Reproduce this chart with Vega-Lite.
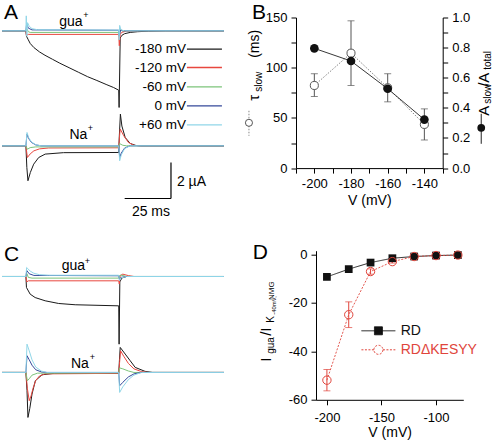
{
"$schema": "https://vega.github.io/schema/vega-lite/v6.json",
"padding": {"left": 0, "top": 1.5, "right": 0, "bottom": 0},
"autosize": {"type": "pad"},
"background": "white",
"bounds": "flush",
"spacing": 233.2,
"resolve": {"scale": {"color": "independent", "strokeDash": "independent"}, "legend": {"color": "independent", "strokeDash": "independent"}},
"config": {
  "font": "Liberation Sans",
  "view": {"stroke": null},
  "axis": {"domainColor": "#000", "tickColor": "#000", "labelColor": "#000", "titleColor": "#000", "labelFontSize": 13, "titleFontSize": 14, "titleFontWeight": "normal", "tickSize": 5, "grid": false, "domainWidth": 1, "tickWidth": 1, "labelFont": "Liberation Sans", "titleFont": "Liberation Sans", "labelOverlap": false, "labelFlush": false},
  "text": {"font": "Liberation Sans", "color": "#000"},
  "legend": {"labelFont": "Liberation Sans", "labelColor": "#000"}
},
"datasets": {
"tr": [
{"p":"A","g":"gua","v":"-180 mV","t":-13.2,"i":0},{"p":"A","g":"gua","v":"-180 mV","t":-0.3,"i":0},{"p":"A","g":"gua","v":"-180 mV","t":0,"i":-0.3},{"p":"A","g":"gua","v":"-180 mV","t":1,"i":-0.5},{"p":"A","g":"gua","v":"-180 mV","t":2,"i":-0.7},{"p":"A","g":"gua","v":"-180 mV","t":4,"i":-0.93},{"p":"A","g":"gua","v":"-180 mV","t":7,"i":-1.17},{"p":"A","g":"gua","v":"-180 mV","t":10,"i":-1.36},{"p":"A","g":"gua","v":"-180 mV","t":14,"i":-1.58},{"p":"A","g":"gua","v":"-180 mV","t":18,"i":-1.8},{"p":"A","g":"gua","v":"-180 mV","t":23,"i":-2.05},{"p":"A","g":"gua","v":"-180 mV","t":28,"i":-2.3},{"p":"A","g":"gua","v":"-180 mV","t":33,"i":-2.55},{"p":"A","g":"gua","v":"-180 mV","t":38,"i":-2.76},{"p":"A","g":"gua","v":"-180 mV","t":43,"i":-2.98},{"p":"A","g":"gua","v":"-180 mV","t":47,"i":-3.15},{"p":"A","g":"gua","v":"-180 mV","t":49.8,"i":-3.3},{"p":"A","g":"gua","v":"-180 mV","t":50,"i":-4.26},{"p":"A","g":"gua","v":"-180 mV","t":50.6,"i":-0.4},{"p":"A","g":"gua","v":"-180 mV","t":51.5,"i":-0.25},{"p":"A","g":"gua","v":"-180 mV","t":53,"i":-0.16},{"p":"A","g":"gua","v":"-180 mV","t":56,"i":-0.09},{"p":"A","g":"gua","v":"-180 mV","t":60,"i":-0.05},{"p":"A","g":"gua","v":"-180 mV","t":66,"i":-0.02},{"p":"A","g":"gua","v":"-180 mV","t":75,"i":0},{"p":"A","g":"gua","v":"-180 mV","t":106.6,"i":0},
{"p":"A","g":"na","v":"-180 mV","t":-13.2,"i":-6.39},{"p":"A","g":"na","v":"-180 mV","t":-0.3,"i":-6.39},{"p":"A","g":"na","v":"-180 mV","t":0.2,"i":-7.59},{"p":"A","g":"na","v":"-180 mV","t":0.8,"i":-8.33},{"p":"A","g":"na","v":"-180 mV","t":2.1,"i":-7.87},{"p":"A","g":"na","v":"-180 mV","t":3.9,"i":-7.41},{"p":"A","g":"na","v":"-180 mV","t":6.6,"i":-7.04},{"p":"A","g":"na","v":"-180 mV","t":10.1,"i":-6.85},{"p":"A","g":"na","v":"-180 mV","t":20,"i":-6.77},{"p":"A","g":"na","v":"-180 mV","t":49.8,"i":-6.76},{"p":"A","g":"na","v":"-180 mV","t":50.1,"i":-5.89},{"p":"A","g":"na","v":"-180 mV","t":50.7,"i":-4.63},{"p":"A","g":"na","v":"-180 mV","t":51.5,"i":-5.29},{"p":"A","g":"na","v":"-180 mV","t":53.3,"i":-5.93},{"p":"A","g":"na","v":"-180 mV","t":56,"i":-6.26},{"p":"A","g":"na","v":"-180 mV","t":59,"i":-6.37},{"p":"A","g":"na","v":"-180 mV","t":62,"i":-6.39},{"p":"A","g":"na","v":"-180 mV","t":106.6,"i":-6.39},
{"p":"A","g":"gua","v":"-120 mV","t":-13.2,"i":0},{"p":"A","g":"gua","v":"-120 mV","t":-0.3,"i":0},{"p":"A","g":"gua","v":"-120 mV","t":0,"i":-0.25},{"p":"A","g":"gua","v":"-120 mV","t":1,"i":-0.2},{"p":"A","g":"gua","v":"-120 mV","t":49.8,"i":-0.2},{"p":"A","g":"gua","v":"-120 mV","t":50.1,"i":-0.83},{"p":"A","g":"gua","v":"-120 mV","t":50.6,"i":-0.2},{"p":"A","g":"gua","v":"-120 mV","t":51.5,"i":-0.08},{"p":"A","g":"gua","v":"-120 mV","t":54,"i":-0.02},{"p":"A","g":"gua","v":"-120 mV","t":58,"i":0},{"p":"A","g":"gua","v":"-120 mV","t":106.6,"i":0},
{"p":"A","g":"na","v":"-120 mV","t":-13.2,"i":-6.39},{"p":"A","g":"na","v":"-120 mV","t":-0.3,"i":-6.39},{"p":"A","g":"na","v":"-120 mV","t":0.5,"i":-7.04},{"p":"A","g":"na","v":"-120 mV","t":2,"i":-6.84},{"p":"A","g":"na","v":"-120 mV","t":4,"i":-6.67},{"p":"A","g":"na","v":"-120 mV","t":7,"i":-6.56},{"p":"A","g":"na","v":"-120 mV","t":12,"i":-6.51},{"p":"A","g":"na","v":"-120 mV","t":49.8,"i":-6.5},{"p":"A","g":"na","v":"-120 mV","t":50.2,"i":-5.89},{"p":"A","g":"na","v":"-120 mV","t":50.6,"i":-5.46},{"p":"A","g":"na","v":"-120 mV","t":52.5,"i":-5.83},{"p":"A","g":"na","v":"-120 mV","t":55,"i":-6.2},{"p":"A","g":"na","v":"-120 mV","t":58,"i":-6.36},{"p":"A","g":"na","v":"-120 mV","t":61,"i":-6.39},{"p":"A","g":"na","v":"-120 mV","t":106.6,"i":-6.39},
{"p":"A","g":"gua","v":"-60 mV","t":-13.2,"i":0},{"p":"A","g":"gua","v":"-60 mV","t":-0.3,"i":0},{"p":"A","g":"gua","v":"-60 mV","t":0.3,"i":0.1},{"p":"A","g":"gua","v":"-60 mV","t":1,"i":-0.05},{"p":"A","g":"gua","v":"-60 mV","t":2,"i":-0.09},{"p":"A","g":"gua","v":"-60 mV","t":49.8,"i":-0.09},{"p":"A","g":"gua","v":"-60 mV","t":50.1,"i":-0.25},{"p":"A","g":"gua","v":"-60 mV","t":50.6,"i":0.05},{"p":"A","g":"gua","v":"-60 mV","t":52,"i":0},{"p":"A","g":"gua","v":"-60 mV","t":106.6,"i":0},
{"p":"A","g":"na","v":"-60 mV","t":-13.2,"i":-6.39},{"p":"A","g":"na","v":"-60 mV","t":-0.3,"i":-6.39},{"p":"A","g":"na","v":"-60 mV","t":0.5,"i":-6.58},{"p":"A","g":"na","v":"-60 mV","t":2,"i":-6.49},{"p":"A","g":"na","v":"-60 mV","t":5,"i":-6.45},{"p":"A","g":"na","v":"-60 mV","t":49.8,"i":-6.45},{"p":"A","g":"na","v":"-60 mV","t":50.3,"i":-6.27},{"p":"A","g":"na","v":"-60 mV","t":52,"i":-6.36},{"p":"A","g":"na","v":"-60 mV","t":54,"i":-6.39},{"p":"A","g":"na","v":"-60 mV","t":106.6,"i":-6.39},
{"p":"A","g":"gua","v":"0 mV","t":-13.2,"i":0},{"p":"A","g":"gua","v":"0 mV","t":-0.3,"i":0},{"p":"A","g":"gua","v":"0 mV","t":0.1,"i":0.4},{"p":"A","g":"gua","v":"0 mV","t":1,"i":0.15},{"p":"A","g":"gua","v":"0 mV","t":3,"i":0.05},{"p":"A","g":"gua","v":"0 mV","t":49.8,"i":0.03},{"p":"A","g":"gua","v":"0 mV","t":50.1,"i":-0.3},{"p":"A","g":"gua","v":"0 mV","t":50.8,"i":0.05},{"p":"A","g":"gua","v":"0 mV","t":52,"i":0},{"p":"A","g":"gua","v":"0 mV","t":106.6,"i":0},
{"p":"A","g":"na","v":"0 mV","t":-13.2,"i":-6.39},{"p":"A","g":"na","v":"0 mV","t":-0.3,"i":-6.39},{"p":"A","g":"na","v":"0 mV","t":0.3,"i":-5.74},{"p":"A","g":"na","v":"0 mV","t":1.2,"i":-5.99},{"p":"A","g":"na","v":"0 mV","t":2.7,"i":-6.2},{"p":"A","g":"na","v":"0 mV","t":5,"i":-6.34},{"p":"A","g":"na","v":"0 mV","t":8,"i":-6.39},{"p":"A","g":"na","v":"0 mV","t":49.8,"i":-6.39},{"p":"A","g":"na","v":"0 mV","t":50.3,"i":-7.04},{"p":"A","g":"na","v":"0 mV","t":51.2,"i":-6.79},{"p":"A","g":"na","v":"0 mV","t":53,"i":-6.51},{"p":"A","g":"na","v":"0 mV","t":56,"i":-6.39},{"p":"A","g":"na","v":"0 mV","t":106.6,"i":-6.39},
{"p":"A","g":"gua","v":"+60 mV","t":-13.2,"i":0},{"p":"A","g":"gua","v":"+60 mV","t":-0.3,"i":0},{"p":"A","g":"gua","v":"+60 mV","t":-0.1,"i":0.83},{"p":"A","g":"gua","v":"+60 mV","t":0.2,"i":-0.3},{"p":"A","g":"gua","v":"+60 mV","t":0.6,"i":0.45},{"p":"A","g":"gua","v":"+60 mV","t":1.5,"i":0.25},{"p":"A","g":"gua","v":"+60 mV","t":3,"i":0.12},{"p":"A","g":"gua","v":"+60 mV","t":6,"i":0.06},{"p":"A","g":"gua","v":"+60 mV","t":49.8,"i":0.04},{"p":"A","g":"gua","v":"+60 mV","t":50,"i":-0.5},{"p":"A","g":"gua","v":"+60 mV","t":50.3,"i":0.3},{"p":"A","g":"gua","v":"+60 mV","t":51,"i":0.05},{"p":"A","g":"gua","v":"+60 mV","t":53,"i":0},{"p":"A","g":"gua","v":"+60 mV","t":106.6,"i":0},
{"p":"A","g":"na","v":"+60 mV","t":-13.2,"i":-6.39},{"p":"A","g":"na","v":"+60 mV","t":-0.3,"i":-6.39},{"p":"A","g":"na","v":"+60 mV","t":0.3,"i":-5.65},{"p":"A","g":"na","v":"+60 mV","t":1.2,"i":-5.94},{"p":"A","g":"na","v":"+60 mV","t":2.7,"i":-6.17},{"p":"A","g":"na","v":"+60 mV","t":5,"i":-6.33},{"p":"A","g":"na","v":"+60 mV","t":8,"i":-6.39},{"p":"A","g":"na","v":"+60 mV","t":49.8,"i":-6.39},{"p":"A","g":"na","v":"+60 mV","t":50.3,"i":-7.22},{"p":"A","g":"na","v":"+60 mV","t":51.2,"i":-6.89},{"p":"A","g":"na","v":"+60 mV","t":53,"i":-6.54},{"p":"A","g":"na","v":"+60 mV","t":56,"i":-6.39},{"p":"A","g":"na","v":"+60 mV","t":106.6,"i":-6.39},
{"p":"C","g":"gua","v":"-180 mV","t":-13.2,"i":0},{"p":"C","g":"gua","v":"-180 mV","t":-0.3,"i":0},{"p":"C","g":"gua","v":"-180 mV","t":0,"i":-0.61},{"p":"C","g":"gua","v":"-180 mV","t":2,"i":-0.98},{"p":"C","g":"gua","v":"-180 mV","t":4.7,"i":-1.17},{"p":"C","g":"gua","v":"-180 mV","t":10.1,"i":-1.35},{"p":"C","g":"gua","v":"-180 mV","t":17.4,"i":-1.5},{"p":"C","g":"gua","v":"-180 mV","t":26.3,"i":-1.57},{"p":"C","g":"gua","v":"-180 mV","t":49.8,"i":-1.63},{"p":"C","g":"gua","v":"-180 mV","t":50,"i":-3.76},{"p":"C","g":"gua","v":"-180 mV","t":50.4,"i":-0.3},{"p":"C","g":"gua","v":"-180 mV","t":51.5,"i":-0.08},{"p":"C","g":"gua","v":"-180 mV","t":54,"i":0},{"p":"C","g":"gua","v":"-180 mV","t":106.6,"i":0},
{"p":"C","g":"na","v":"-180 mV","t":-13.2,"i":-5.33},{"p":"C","g":"na","v":"-180 mV","t":-0.3,"i":-5.33},{"p":"C","g":"na","v":"-180 mV","t":0.3,"i":-6.33},{"p":"C","g":"na","v":"-180 mV","t":0.8,"i":-7.83},{"p":"C","g":"na","v":"-180 mV","t":1.8,"i":-7.33},{"p":"C","g":"na","v":"-180 mV","t":3,"i":-6.53},{"p":"C","g":"na","v":"-180 mV","t":4.8,"i":-5.79},{"p":"C","g":"na","v":"-180 mV","t":8.4,"i":-5.46},{"p":"C","g":"na","v":"-180 mV","t":15,"i":-5.38},{"p":"C","g":"na","v":"-180 mV","t":49.8,"i":-5.39},{"p":"C","g":"na","v":"-180 mV","t":50.2,"i":-4.63},{"p":"C","g":"na","v":"-180 mV","t":50.6,"i":-3.94},{"p":"C","g":"na","v":"-180 mV","t":53.3,"i":-4.31},{"p":"C","g":"na","v":"-180 mV","t":56,"i":-4.68},{"p":"C","g":"na","v":"-180 mV","t":58.7,"i":-5.05},{"p":"C","g":"na","v":"-180 mV","t":64,"i":-5.27},{"p":"C","g":"na","v":"-180 mV","t":68,"i":-5.33},{"p":"C","g":"na","v":"-180 mV","t":106.6,"i":-5.33},
{"p":"C","g":"gua","v":"-120 mV","t":-13.2,"i":0},{"p":"C","g":"gua","v":"-120 mV","t":-0.3,"i":0},{"p":"C","g":"gua","v":"-120 mV","t":0.2,"i":-0.3},{"p":"C","g":"gua","v":"-120 mV","t":1,"i":-0.24},{"p":"C","g":"gua","v":"-120 mV","t":49.8,"i":-0.24},{"p":"C","g":"gua","v":"-120 mV","t":50.1,"i":-0.42},{"p":"C","g":"gua","v":"-120 mV","t":50.6,"i":0.05},{"p":"C","g":"gua","v":"-120 mV","t":52,"i":0.13},{"p":"C","g":"gua","v":"-120 mV","t":55,"i":0.05},{"p":"C","g":"gua","v":"-120 mV","t":58,"i":0},{"p":"C","g":"gua","v":"-120 mV","t":106.6,"i":0},
{"p":"C","g":"na","v":"-120 mV","t":-13.2,"i":-5.33},{"p":"C","g":"na","v":"-120 mV","t":-0.3,"i":-5.33},{"p":"C","g":"na","v":"-120 mV","t":0.5,"i":-6.23},{"p":"C","g":"na","v":"-120 mV","t":1.5,"i":-6.9},{"p":"C","g":"na","v":"-120 mV","t":2.5,"i":-6.63},{"p":"C","g":"na","v":"-120 mV","t":3.5,"i":-6.23},{"p":"C","g":"na","v":"-120 mV","t":5,"i":-5.78},{"p":"C","g":"na","v":"-120 mV","t":7,"i":-5.53},{"p":"C","g":"na","v":"-120 mV","t":10,"i":-5.41},{"p":"C","g":"na","v":"-120 mV","t":49.8,"i":-5.38},{"p":"C","g":"na","v":"-120 mV","t":50.3,"i":-4.73},{"p":"C","g":"na","v":"-120 mV","t":50.8,"i":-4.13},{"p":"C","g":"na","v":"-120 mV","t":52.5,"i":-4.43},{"p":"C","g":"na","v":"-120 mV","t":55,"i":-4.83},{"p":"C","g":"na","v":"-120 mV","t":58,"i":-5.13},{"p":"C","g":"na","v":"-120 mV","t":62,"i":-5.28},{"p":"C","g":"na","v":"-120 mV","t":66,"i":-5.33},{"p":"C","g":"na","v":"-120 mV","t":106.6,"i":-5.33},
{"p":"C","g":"gua","v":"-60 mV","t":-13.2,"i":0},{"p":"C","g":"gua","v":"-60 mV","t":-0.3,"i":0},{"p":"C","g":"gua","v":"-60 mV","t":0.3,"i":0.15},{"p":"C","g":"gua","v":"-60 mV","t":1,"i":-0.05},{"p":"C","g":"gua","v":"-60 mV","t":3,"i":-0.09},{"p":"C","g":"gua","v":"-60 mV","t":49.8,"i":-0.09},{"p":"C","g":"gua","v":"-60 mV","t":50.2,"i":0.05},{"p":"C","g":"gua","v":"-60 mV","t":51,"i":0.08},{"p":"C","g":"gua","v":"-60 mV","t":54,"i":0},{"p":"C","g":"gua","v":"-60 mV","t":106.6,"i":0},
{"p":"C","g":"na","v":"-60 mV","t":-13.2,"i":-5.33},{"p":"C","g":"na","v":"-60 mV","t":-0.3,"i":-5.33},{"p":"C","g":"na","v":"-60 mV","t":0.5,"i":-5.79},{"p":"C","g":"na","v":"-60 mV","t":1.5,"i":-5.68},{"p":"C","g":"na","v":"-60 mV","t":3,"i":-5.48},{"p":"C","g":"na","v":"-60 mV","t":6,"i":-5.37},{"p":"C","g":"na","v":"-60 mV","t":49.8,"i":-5.35},{"p":"C","g":"na","v":"-60 mV","t":50.3,"i":-5.08},{"p":"C","g":"na","v":"-60 mV","t":52,"i":-5.13},{"p":"C","g":"na","v":"-60 mV","t":55,"i":-5.25},{"p":"C","g":"na","v":"-60 mV","t":58,"i":-5.33},{"p":"C","g":"na","v":"-60 mV","t":106.6,"i":-5.33},
{"p":"C","g":"gua","v":"0 mV","t":-13.2,"i":0},{"p":"C","g":"gua","v":"0 mV","t":-0.3,"i":0},{"p":"C","g":"gua","v":"0 mV","t":0.2,"i":0.33},{"p":"C","g":"gua","v":"0 mV","t":1.5,"i":0.15},{"p":"C","g":"gua","v":"0 mV","t":4,"i":0.06},{"p":"C","g":"gua","v":"0 mV","t":49.8,"i":0.04},{"p":"C","g":"gua","v":"0 mV","t":50.2,"i":-0.15},{"p":"C","g":"gua","v":"0 mV","t":51,"i":-0.05},{"p":"C","g":"gua","v":"0 mV","t":54,"i":0},{"p":"C","g":"gua","v":"0 mV","t":106.6,"i":0},
{"p":"C","g":"na","v":"0 mV","t":-13.2,"i":-5.33},{"p":"C","g":"na","v":"0 mV","t":-0.3,"i":-5.33},{"p":"C","g":"na","v":"0 mV","t":0.3,"i":-4.4},{"p":"C","g":"na","v":"0 mV","t":1.5,"i":-4.63},{"p":"C","g":"na","v":"0 mV","t":3,"i":-4.93},{"p":"C","g":"na","v":"0 mV","t":5,"i":-5.18},{"p":"C","g":"na","v":"0 mV","t":8,"i":-5.3},{"p":"C","g":"na","v":"0 mV","t":11,"i":-5.33},{"p":"C","g":"na","v":"0 mV","t":49.8,"i":-5.33},{"p":"C","g":"na","v":"0 mV","t":50.3,"i":-6.07},{"p":"C","g":"na","v":"0 mV","t":52,"i":-5.88},{"p":"C","g":"na","v":"0 mV","t":55,"i":-5.58},{"p":"C","g":"na","v":"0 mV","t":58,"i":-5.41},{"p":"C","g":"na","v":"0 mV","t":62,"i":-5.33},{"p":"C","g":"na","v":"0 mV","t":106.6,"i":-5.33},
{"p":"C","g":"gua","v":"+60 mV","t":-13.2,"i":0},{"p":"C","g":"gua","v":"+60 mV","t":-0.3,"i":0},{"p":"C","g":"gua","v":"+60 mV","t":0.1,"i":0.5},{"p":"C","g":"gua","v":"+60 mV","t":0.6,"i":0.45},{"p":"C","g":"gua","v":"+60 mV","t":2,"i":0.3},{"p":"C","g":"gua","v":"+60 mV","t":4,"i":0.18},{"p":"C","g":"gua","v":"+60 mV","t":7,"i":0.1},{"p":"C","g":"gua","v":"+60 mV","t":12,"i":0.07},{"p":"C","g":"gua","v":"+60 mV","t":49.8,"i":0.07},{"p":"C","g":"gua","v":"+60 mV","t":50.2,"i":-0.24},{"p":"C","g":"gua","v":"+60 mV","t":51,"i":-0.08},{"p":"C","g":"gua","v":"+60 mV","t":54,"i":0},{"p":"C","g":"gua","v":"+60 mV","t":106.6,"i":0},
{"p":"C","g":"na","v":"+60 mV","t":-13.2,"i":-5.33},{"p":"C","g":"na","v":"+60 mV","t":-0.3,"i":-5.33},{"p":"C","g":"na","v":"+60 mV","t":0.3,"i":-3.76},{"p":"C","g":"na","v":"+60 mV","t":1.5,"i":-4.13},{"p":"C","g":"na","v":"+60 mV","t":3,"i":-4.63},{"p":"C","g":"na","v":"+60 mV","t":5,"i":-5.03},{"p":"C","g":"na","v":"+60 mV","t":8,"i":-5.25},{"p":"C","g":"na","v":"+60 mV","t":11,"i":-5.33},{"p":"C","g":"na","v":"+60 mV","t":49.8,"i":-5.33},{"p":"C","g":"na","v":"+60 mV","t":50.3,"i":-6.44},{"p":"C","g":"na","v":"+60 mV","t":52,"i":-6.13},{"p":"C","g":"na","v":"+60 mV","t":55,"i":-5.73},{"p":"C","g":"na","v":"+60 mV","t":58,"i":-5.48},{"p":"C","g":"na","v":"+60 mV","t":62,"i":-5.33},{"p":"C","g":"na","v":"+60 mV","t":106.6,"i":-5.33}
],
"b": [
{"v":-200,"tau":82.3,"lo":71.3,"hi":94,"r":0.795},
{"v":-180,"tau":114.5,"lo":82.3,"hi":146.7,"r":0.711},
{"v":-160,"tau":80,"lo":66,"hi":94,"r":0.527},
{"v":-140,"tau":43.5,"lo":28,"hi":59,"r":0.322}
],
"d": [
{"s":"RD","v":-200,"y":-9.3},{"s":"RD","v":-180,"y":-6.1},{"s":"RD","v":-160,"y":-3.4},{"s":"RD","v":-140,"y":-1.6},{"s":"RD","v":-120,"y":-0.9},{"s":"RD","v":-100,"y":-0.5},{"s":"RD","v":-80,"y":-0.3},
{"s":"RDΔKESYY","v":-200,"y":-51.9,"lo":-56.3,"hi":-47.5},{"s":"RDΔKESYY","v":-180,"y":-24.9,"lo":-30.2,"hi":-19.6},{"s":"RDΔKESYY","v":-160,"y":-7.1,"lo":-8.2,"hi":-6.0},{"s":"RDΔKESYY","v":-140,"y":-3.0,"lo":-3.6,"hi":-2.4},{"s":"RDΔKESYY","v":-120,"y":-0.9,"lo":-1.2,"hi":-0.6},{"s":"RDΔKESYY","v":-100,"y":-0.5,"lo":-0.7,"hi":-0.3},{"s":"RDΔKESYY","v":-80,"y":-0.3,"lo":-0.4,"hi":-0.2}
]
},
"vconcat": [
{
 "hconcat": [
 {
  "width": 273.3, "height": 150.6,
  "layer": [
    {"data": {"name": "tr"}, "transform": [{"filter": "datum.p === 'A'"}],
     "mark": {"type": "line", "strokeWidth": 1, "interpolate": "linear"},
     "encoding": {
       "x": {"field": "t", "type": "quantitative", "scale": {"domain": [-13.2, 134.3], "nice": false, "zero": false}, "axis": null},
       "y": {"field": "i", "type": "quantitative", "scale": {"domain": [-7.628, 0.739], "nice": false, "zero": false}, "axis": null},
       "color": {"field": "v", "type": "nominal", "scale": {"domain": ["-180 mV", "-120 mV", "-60 mV", "0 mV", "+60 mV"], "range": ["#1a1a1a", "#e8473f", "#7cc47a", "#35489a", "#90d6e8"]}, "legend": null},
       "detail": {"field": "g"}
     }},
    {"data": {"values": [{}]}, "mark": {"type": "rule", "color": "#1a1a1a", "strokeWidth": 1.3}, "encoding": {"x": {"datum": 86.6}, "x2": {"datum": 105.5}, "y": {"datum": -1.017}}},
    {"data": {"values": [{}]}, "mark": {"type": "rule", "color": "#e8473f", "strokeWidth": 1.3}, "encoding": {"x": {"datum": 86.6}, "x2": {"datum": 105.5}, "y": {"datum": -2.039}}},
    {"data": {"values": [{}]}, "mark": {"type": "rule", "color": "#7cc47a", "strokeWidth": 1.3}, "encoding": {"x": {"datum": 86.6}, "x2": {"datum": 105.5}, "y": {"datum": -3.111}}},
    {"data": {"values": [{}]}, "mark": {"type": "rule", "color": "#35489a", "strokeWidth": 1.3}, "encoding": {"x": {"datum": 86.6}, "x2": {"datum": 105.5}, "y": {"datum": -4.167}}},
    {"data": {"values": [{}]}, "mark": {"type": "rule", "color": "#90d6e8", "strokeWidth": 1.3}, "encoding": {"x": {"datum": 86.6}, "x2": {"datum": 105.5}, "y": {"datum": -5.222}}},
    {"data": {"values": [{}]}, "mark": {"type": "text", "text": "-180 mV", "fontSize": 13.5, "align": "right", "baseline": "middle"}, "encoding": {"x": {"datum": 86.1}, "y": {"datum": -1.017}}},
    {"data": {"values": [{}]}, "mark": {"type": "text", "text": "-120 mV", "fontSize": 13.5, "align": "right", "baseline": "middle"}, "encoding": {"x": {"datum": 86.1}, "y": {"datum": -2.039}}},
    {"data": {"values": [{}]}, "mark": {"type": "text", "text": "-60 mV", "fontSize": 13.5, "align": "right", "baseline": "middle"}, "encoding": {"x": {"datum": 86.1}, "y": {"datum": -3.111}}},
    {"data": {"values": [{}]}, "mark": {"type": "text", "text": "0 mV", "fontSize": 13.5, "align": "right", "baseline": "middle"}, "encoding": {"x": {"datum": 86.1}, "y": {"datum": -4.167}}},
    {"data": {"values": [{}]}, "mark": {"type": "text", "text": "+60 mV", "fontSize": 13.5, "align": "right", "baseline": "middle"}, "encoding": {"x": {"datum": 86.1}, "y": {"datum": -5.222}}},
    {"data": {"values": [{}]}, "mark": {"type": "text", "text": "A", "fontSize": 21, "align": "left", "baseline": "alphabetic"}, "encoding": {"x": {"datum": -12.14}, "y": {"datum": 0.65}}},
    {"data": {"values": [{}]}, "mark": {"type": "text", "text": "gua", "fontSize": 14, "align": "center", "baseline": "alphabetic"}, "encoding": {"x": {"datum": 24.0}, "y": {"datum": 0.278}}},
    {"data": {"values": [{}]}, "mark": {"type": "text", "text": "+", "fontSize": 9, "align": "center", "baseline": "alphabetic"}, "encoding": {"x": {"datum": 32.1}, "y": {"datum": 0.72}}},
    {"data": {"values": [{}]}, "mark": {"type": "text", "text": "Na", "fontSize": 14, "align": "center", "baseline": "alphabetic"}, "encoding": {"x": {"datum": 28.06}, "y": {"datum": -6.0}}},
    {"data": {"values": [{}]}, "mark": {"type": "text", "text": "+", "fontSize": 9, "align": "center", "baseline": "alphabetic"}, "encoding": {"x": {"datum": 34.54}, "y": {"datum": -5.56}}},
    {"data": {"values": [{}]}, "mark": {"type": "rule", "color": "#000", "strokeWidth": 1.2}, "encoding": {"x": {"datum": 53}, "x2": {"datum": 78}, "y": {"datum": -9.317}}},
    {"data": {"values": [{}]}, "mark": {"type": "rule", "color": "#000", "strokeWidth": 1.2}, "encoding": {"x": {"datum": 78}, "y": {"datum": -9.317}, "y2": {"datum": -7.317}}},
    {"data": {"values": [{}]}, "mark": {"type": "text", "text": "2 µA", "fontSize": 14, "align": "left", "baseline": "middle"}, "encoding": {"x": {"datum": 81.2}, "y": {"datum": -8.39}}},
    {"data": {"values": [{}]}, "mark": {"type": "text", "text": "25 ms", "fontSize": 14, "align": "center", "baseline": "middle"}, "encoding": {"x": {"datum": 67.2}, "y": {"datum": -10.06}}},
    {"data": {"values": [{}]}, "mark": {"type": "text", "text": "B", "fontSize": 21, "align": "left", "baseline": "alphabetic"}, "encoding": {"x": {"datum": 121.7}, "y": {"datum": 0.65}}},
    {"data": {"values": [{}]}, "mark": {"type": "text", "text": "τ", "fontSize": 15, "angle": 270, "align": "left", "baseline": "alphabetic"}, "encoding": {"x": {"datum": 125.47}, "y": {"datum": -3.889}}},
    {"data": {"values": [{}]}, "mark": {"type": "text", "text": "slow", "fontSize": 10, "angle": 270, "align": "left", "baseline": "alphabetic"}, "encoding": {"x": {"datum": 127.09}, "y": {"datum": -3.389}}},
    {"data": {"values": [{}]}, "mark": {"type": "text", "text": "(ms)", "fontSize": 14, "angle": 270, "align": "left", "baseline": "alphabetic"}, "encoding": {"x": {"datum": 125.47}, "y": {"datum": -1.5}}},
    {"data": {"values": [{}]}, "mark": {"type": "rule", "color": "#777", "strokeWidth": 0.9, "strokeDash": [1.5, 1.5]}, "encoding": {"x": {"datum": 120.08}, "y": {"datum": -4.444}, "y2": {"datum": -5.833}}},
    {"data": {"values": [{}]}, "mark": {"type": "point", "shape": "circle", "filled": false, "size": 50, "stroke": "#555", "strokeWidth": 1, "fill": "#fff", "opacity": 1}, "encoding": {"x": {"datum": 120.08}, "y": {"datum": -5.111}}},
    {"data": {"values": [{}]}, "mark": {"type": "text", "text": "A", "fontSize": 15, "angle": 270, "align": "left", "baseline": "alphabetic"}, "encoding": {"x": {"datum": 249.6}, "y": {"datum": -4.722}}},
    {"data": {"values": [{}]}, "mark": {"type": "text", "text": "slow", "fontSize": 10, "angle": 270, "align": "left", "baseline": "alphabetic"}, "encoding": {"x": {"datum": 250.9}, "y": {"datum": -4.056}}},
    {"data": {"values": [{}]}, "mark": {"type": "text", "text": "/A", "fontSize": 15, "angle": 270, "align": "left", "baseline": "alphabetic"}, "encoding": {"x": {"datum": 249.6}, "y": {"datum": -3.111}}},
    {"data": {"values": [{}]}, "mark": {"type": "text", "text": "total", "fontSize": 10, "angle": 270, "align": "left", "baseline": "alphabetic"}, "encoding": {"x": {"datum": 250.9}, "y": {"datum": -2.167}}},
    {"data": {"values": [{}]}, "mark": {"type": "rule", "color": "#222", "strokeWidth": 1}, "encoding": {"x": {"datum": 245.44}, "y": {"datum": -4.611}, "y2": {"datum": -6.278}}},
    {"data": {"values": [{}]}, "mark": {"type": "point", "shape": "circle", "filled": true, "size": 60, "color": "#111", "opacity": 1}, "encoding": {"x": {"datum": 245.44}, "y": {"datum": -5.389}}}
  ]
 },
 {
  "width": 146.7, "height": 150.6,
  "data": {"name": "b"},
  "resolve": {"scale": {"y": "independent"}},
  "encoding": {
    "x": {"field": "v", "type": "quantitative", "scale": {"domain": [-210, -130], "nice": false, "zero": false},
          "axis": {"values": [-210, -200, -190, -180, -170, -160, -150, -140, -130], "labelExpr": "datum.value % 20 === 0 ? '' + datum.value : ''", "title": "V (mV)", "labelPadding": 4, "titlePadding": 3, "labelOverlap": false, "zindex": 2}}
  },
  "layer": [
    {"mark": {"type": "line", "color": "#777", "strokeWidth": 0.9, "strokeDash": [1.5, 1.5]},
     "encoding": {
       "y": {"field": "tau", "type": "quantitative", "scale": {"domain": [0, 150], "nice": false, "zero": false},
             "axis": {"orient": "left", "values": [0, 25, 50, 75, 100, 125, 150], "labelExpr": "datum.value % 50 === 0 ? '' + datum.value : ''", "title": null, "labelPadding": 4, "labelOverlap": false, "zindex": 2}}
     }},
    {"mark": {"type": "rule", "color": "#555", "strokeWidth": 1},
     "encoding": {"y": {"field": "lo", "type": "quantitative", "scale": {"domain": [0, 150], "nice": false, "zero": false}, "axis": null}, "y2": {"field": "hi"}}},
    {"mark": {"type": "tick", "orient": "horizontal", "color": "#555", "size": 7, "thickness": 1},
     "encoding": {"y": {"field": "lo", "type": "quantitative", "scale": {"domain": [0, 150], "nice": false, "zero": false}, "axis": null}}},
    {"mark": {"type": "tick", "orient": "horizontal", "color": "#555", "size": 7, "thickness": 1},
     "encoding": {"y": {"field": "hi", "type": "quantitative", "scale": {"domain": [0, 150], "nice": false, "zero": false}, "axis": null}}},
    {"mark": {"type": "point", "shape": "circle", "filled": false, "size": 65, "stroke": "#555", "strokeWidth": 1, "fill": "#fff", "opacity": 1},
     "encoding": {"y": {"field": "tau", "type": "quantitative", "scale": {"domain": [0, 150], "nice": false, "zero": false}, "axis": null}}},
    {"mark": {"type": "line", "color": "#222", "strokeWidth": 0.9},
     "encoding": {
       "y": {"field": "r", "type": "quantitative", "scale": {"domain": [0, 1], "nice": false, "zero": false},
             "axis": {"orient": "right", "values": [0, 0.1, 0.2, 0.3, 0.4, 0.5, 0.6, 0.7, 0.8, 0.9, 1], "labelExpr": "round(datum.value * 10) % 2 === 0 ? format(datum.value, '.1f') : ''", "title": null, "labelPadding": 4, "labelOverlap": false, "zindex": 2}}
     }},
    {"mark": {"type": "point", "shape": "circle", "filled": true, "size": 75, "color": "#111", "opacity": 1},
     "encoding": {"y": {"field": "r", "type": "quantitative", "scale": {"domain": [0, 1], "nice": false, "zero": false}, "axis": null}}}
  ]
 }
 ],
 "spacing": 20,
 "bounds": "flush",
 "resolve": {"scale": {"color": "independent"}, "legend": {"color": "independent"}}
},
{
 "hconcat": [
 {
  "width": 293.3, "height": 149.1,
  "layer": [
    {"data": {"name": "tr"}, "transform": [{"filter": "datum.p === 'C'"}],
     "mark": {"type": "line", "strokeWidth": 1},
     "encoding": {
       "x": {"field": "t", "type": "quantitative", "scale": {"domain": [-13.2, 145.1], "nice": false, "zero": false}, "axis": null},
       "y": {"field": "i", "type": "quantitative", "scale": {"domain": [-6.85, 1.433], "nice": false, "zero": false}, "axis": null},
       "color": {"field": "v", "type": "nominal", "scale": {"domain": ["-180 mV", "-120 mV", "-60 mV", "0 mV", "+60 mV"], "range": ["#1a1a1a", "#e8473f", "#7cc47a", "#35489a", "#90d6e8"]}, "legend": null},
       "detail": {"field": "g"}
     }},
    {"data": {"values": [{}]}, "mark": {"type": "text", "text": "C", "fontSize": 21, "align": "left", "baseline": "alphabetic"}, "encoding": {"x": {"datum": -12.14}, "y": {"datum": 0.872}}},
    {"data": {"values": [{}]}, "mark": {"type": "text", "text": "gua", "fontSize": 14, "align": "center", "baseline": "alphabetic"}, "encoding": {"x": {"datum": 25.36}, "y": {"datum": 0.356}}},
    {"data": {"values": [{}]}, "mark": {"type": "text", "text": "+", "fontSize": 9, "align": "center", "baseline": "alphabetic"}, "encoding": {"x": {"datum": 32.9}, "y": {"datum": 0.706}}},
    {"data": {"values": [{}]}, "mark": {"type": "text", "text": "Na", "fontSize": 14, "align": "center", "baseline": "alphabetic"}, "encoding": {"x": {"datum": 28.87}, "y": {"datum": -5.056}}},
    {"data": {"values": [{}]}, "mark": {"type": "text", "text": "+", "fontSize": 9, "align": "center", "baseline": "alphabetic"}, "encoding": {"x": {"datum": 35.6}, "y": {"datum": -4.63}}}
  ]
 },
 {
  "width": 147.3, "height": 149.1,
  "data": {"name": "d"},
  "layer": [
    {"mark": {"type": "line", "strokeWidth": 0.9},
     "encoding": {
       "x": {"field": "v", "type": "quantitative", "scale": {"domain": [-210, -75], "nice": false, "zero": false},
             "axis": {"values": [-200, -175, -150, -125, -100, -75], "labelExpr": "datum.value % 50 === 0 ? '' + datum.value : ''", "title": "V (mV)", "labelPadding": 7, "titlePadding": 1, "labelOverlap": false}},
       "y": {"field": "y", "type": "quantitative", "scale": {"domain": [-60, 1.5], "nice": false, "zero": false},
             "axis": {"values": [-60, -55, -50, -45, -40, -35, -30, -25, -20, -15, -10, -5, 0], "labelExpr": "datum.value % 10 === 0 ? '' + datum.value : ''", "title": null, "labelPadding": 4, "labelOverlap": false}},
       "color": {"field": "s", "type": "nominal", "scale": {"domain": ["RD", "RDΔKESYY"], "range": ["#111111", "#e0453c"]},
         "legend": {"orient": "none", "legendX": 55.4, "legendY": 73.1, "title": null, "symbolSize": 128, "symbolStrokeWidth": 1, "labelFontSize": 14, "labelOffset": 15.3, "rowPadding": 5, "padding": 0, "labelBaseline": "middle",
           "encode": {
             "symbols": {"update": {
               "shape": {"signal": "datum.value === 'RD' ? 'M-3,0H3M-0.7,-0.7H0.7V0.7H-0.7Z' : 'M-3,0H-0.8M0.8,0H3M0.8,0A0.8,0.8 0 1 1 -0.8,0A0.8,0.8 0 1 1 0.8,0Z'"},
               "fill": {"signal": "datum.value === 'RD' ? '#111111' : 'transparent'"},
               "stroke": {"signal": "datum.value === 'RD' ? '#111111' : '#e0453c'"},
               "strokeDash": {"signal": "datum.value === 'RD' ? [1,0] : [2,1.5]"}
             }},
             "labels": {"update": {"fill": {"signal": "datum.value === 'RD' ? '#111111' : '#e0453c'"}}}
           }}},
       "strokeDash": {"field": "s", "type": "nominal", "scale": {"domain": ["RD", "RDΔKESYY"], "range": [[1, 0], [2, 1.5]]}, "legend": null}
     }},
    {"transform": [{"filter": "datum.s !== 'RD'"}], "mark": {"type": "rule", "color": "#e0453c", "strokeWidth": 1},
     "encoding": {"x": {"field": "v", "type": "quantitative"}, "y": {"field": "lo", "type": "quantitative"}, "y2": {"field": "hi"}}},
    {"transform": [{"filter": "datum.s !== 'RD'"}], "mark": {"type": "tick", "orient": "horizontal", "color": "#e0453c", "size": 7, "thickness": 1},
     "encoding": {"x": {"field": "v", "type": "quantitative"}, "y": {"field": "lo", "type": "quantitative"}}},
    {"transform": [{"filter": "datum.s !== 'RD'"}], "mark": {"type": "tick", "orient": "horizontal", "color": "#e0453c", "size": 7, "thickness": 1},
     "encoding": {"x": {"field": "v", "type": "quantitative"}, "y": {"field": "hi", "type": "quantitative"}}},
    {"transform": [{"filter": "datum.s === 'RD'"}], "mark": {"type": "point", "shape": "square", "filled": true, "size": 60, "color": "#111111", "opacity": 1},
     "encoding": {"x": {"field": "v", "type": "quantitative"}, "y": {"field": "y", "type": "quantitative"}}},
    {"transform": [{"filter": "datum.s !== 'RD'"}], "mark": {"type": "point", "shape": "circle", "filled": false, "size": 70, "stroke": "#e0453c", "strokeWidth": 1, "opacity": 1},
     "encoding": {"x": {"field": "v", "type": "quantitative"}, "y": {"field": "y", "type": "quantitative"}}},
    {"data": {"values": [{}]}, "mark": {"type": "text", "text": "D", "fontSize": 21, "align": "left", "baseline": "alphabetic"}, "encoding": {"x": {"datum": -268.01}, "y": {"datum": -1.98}}},
    {"data": {"values": [{}]}, "mark": {"type": "text", "text": "I", "fontSize": 15, "angle": 270, "align": "left", "baseline": "alphabetic"}, "encoding": {"x": {"datum": -251.52}, "y": {"datum": -44.33}}},
    {"data": {"values": [{}]}, "mark": {"type": "text", "text": "gua", "fontSize": 10, "angle": 270, "align": "left", "baseline": "alphabetic"}, "encoding": {"x": {"datum": -248.77}, "y": {"datum": -41.03}}},
    {"data": {"values": [{}]}, "mark": {"type": "text", "text": "/I", "fontSize": 15, "angle": 270, "align": "left", "baseline": "alphabetic"}, "encoding": {"x": {"datum": -251.52}, "y": {"datum": -33.6}}},
    {"data": {"values": [{}]}, "mark": {"type": "text", "text": "K", "fontSize": 10, "angle": 270, "align": "left", "baseline": "alphabetic"}, "encoding": {"x": {"datum": -248.77}, "y": {"datum": -28.25}}},
    {"data": {"values": [{}]}, "mark": {"type": "text", "text": "-40mV,", "fontSize": 6, "angle": 270, "align": "left", "baseline": "alphabetic"}, "encoding": {"x": {"datum": -246.94}, "y": {"datum": -24.95}}},
    {"data": {"values": [{}]}, "mark": {"type": "text", "text": "NMG", "fontSize": 8, "angle": 270, "align": "left", "baseline": "alphabetic"}, "encoding": {"x": {"datum": -248.77}, "y": {"datum": -18.8}}}
  ]
 }
 ],
 "spacing": 20,
 "bounds": "flush",
 "resolve": {"scale": {"color": "independent", "strokeDash": "independent"}, "legend": {"color": "independent", "strokeDash": "independent"}}
}
]
}
